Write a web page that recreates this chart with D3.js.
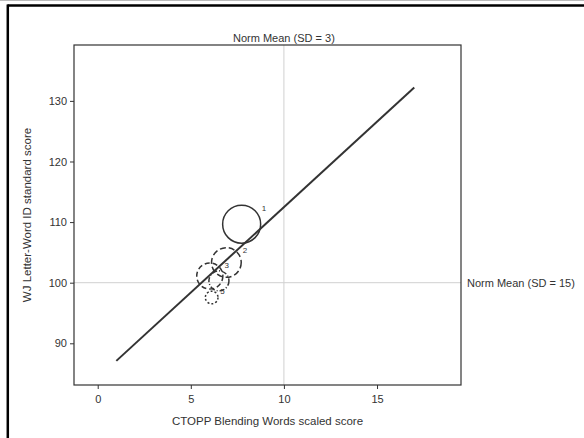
<!DOCTYPE html>
<html>
<head>
<meta charset="utf-8">
<title>CTOPP vs WJ</title>
<script src="https://d3js.org/d3.v7.min.js"></script>
<style>
  body { margin:0; background:#fff; }
  text { font-family: "Liberation Sans", Arial, sans-serif; fill:#333; }
</style>
</head>
<body>
<script>
// study points (x = CTOPP scaled score, y = WJ standard score), weight sets circle size
var labels  = ["1", "2", "3", "", "5"];
var ctopp   = [7.73, 6.91, 6.02, 6.51, 6.12];
var wj      = [109.65, 103.33, 101.1, 100.3, 97.56];
var weights = [36, 22, 17, 10, 4];
var dashes  = ["none", "6,3", "5,3", "5,2,1,2", "2,2"];
// fitted line end points
var fitX = [1, 17];
var fitY = [87.1, 132.2];
var xTicks = [0, 5, 10, 15];
var yTicks = [90, 100, 110, 120, 130];
var normX = 10, normY = 100;

var svg = d3.select("body").append("svg").attr("width", 584).attr("height", 438);

// border of the figure box
svg.append("line").attr("x1",0).attr("x2",584).attr("y1",0.5).attr("y2",0.5).attr("stroke","#bbb");
svg.append("line").attr("x1",7.5).attr("x2",584).attr("y1",5.5).attr("y2",5.5).attr("stroke","#000").attr("stroke-width",2.5);
svg.append("line").attr("x1",7.8).attr("x2",7.8).attr("y1",4.5).attr("y2",438).attr("stroke","#000").attr("stroke-width",2.5);

var x = d3.scaleLinear().domain([-1.273, 19.51]).range([74, 461]);
var y = d3.scaleLinear().domain([83.12, 139.22]).range([385, 45]);
var r = d3.scaleSqrt().domain([0, 36]).range([0, 19]);

// norm reference lines
svg.append("line").attr("x1", x(normX)).attr("x2", x(normX)).attr("y1", 45).attr("y2", 385)
   .attr("stroke", "#d0d0d0");
svg.append("line").attr("x1", 74).attr("x2", 461).attr("y1", y(normY)).attr("y2", y(normY))
   .attr("stroke", "#d0d0d0");

// frame
svg.append("rect").attr("x", 74).attr("y", 45).attr("width", 387).attr("height", 340)
   .attr("fill", "none").attr("stroke", "#333").attr("stroke-width", 1.2);

var xAxis = svg.append("g").attr("transform", "translate(0,385)")
   .call(d3.axisBottom(x).tickValues(xTicks).tickSize(4).tickPadding(6));
var yAxis = svg.append("g").attr("transform", "translate(74,0)")
   .call(d3.axisLeft(y).tickValues(yTicks).tickSize(4).tickPadding(3));
[xAxis, yAxis].forEach(function(g) {
  g.select(".domain").remove();
  g.selectAll("line").attr("stroke", "#333");
  g.selectAll("text").attr("font-size", 11).attr("font-family", "Liberation Sans, Arial, sans-serif").attr("fill", "#333");
});

// fitted line
svg.append("line")
   .attr("x1", x(fitX[0])).attr("y1", y(fitY[0]))
   .attr("x2", x(fitX[1])).attr("y2", y(fitY[1]))
   .attr("stroke", "#333").attr("stroke-width", 2);

// weighted circles
var pts = labels.map(function(l, i) {
  return {label: l, x: ctopp[i], y: wj[i], w: weights[i], dash: dashes[i]};
});
svg.append("g").selectAll("circle").data(pts).enter().append("circle")
   .attr("cx", function(d) { return x(d.x); })
   .attr("cy", function(d) { return y(d.y); })
   .attr("r", function(d) { return r(d.w); })
   .attr("fill", "none").attr("stroke", "#333").attr("stroke-width", 1.5)
   .attr("stroke-dasharray", function(d) { return d.dash; });
svg.append("g").selectAll("text").data(pts).enter().append("text")
   .attr("x", function(d) { return x(d.x) + r(d.w) * 0.9 + 3; })
   .attr("y", function(d) { return y(d.y) - r(d.w) * 0.8 + 2; })
   .attr("font-size", 8)
   .text(function(d) { return d.label; });

// titles
svg.append("text").attr("x", x(normX)).attr("y", 42).attr("text-anchor", "middle")
   .attr("font-size", 11).text("Norm Mean (SD = 3)");
svg.append("text").attr("x", 467).attr("y", y(normY) + 4)
   .attr("font-size", 11).text("Norm Mean (SD = 15)");
svg.append("text").attr("x", 267.5).attr("y", 425).attr("text-anchor", "middle")
   .attr("font-size", 11.5).text("CTOPP Blending Words scaled score");
svg.append("text").attr("transform", "translate(31,215) rotate(-90)").attr("text-anchor", "middle")
   .attr("font-size", 11.5).text("WJ Letter-Word ID standard score");
</script>
</body>
</html>
